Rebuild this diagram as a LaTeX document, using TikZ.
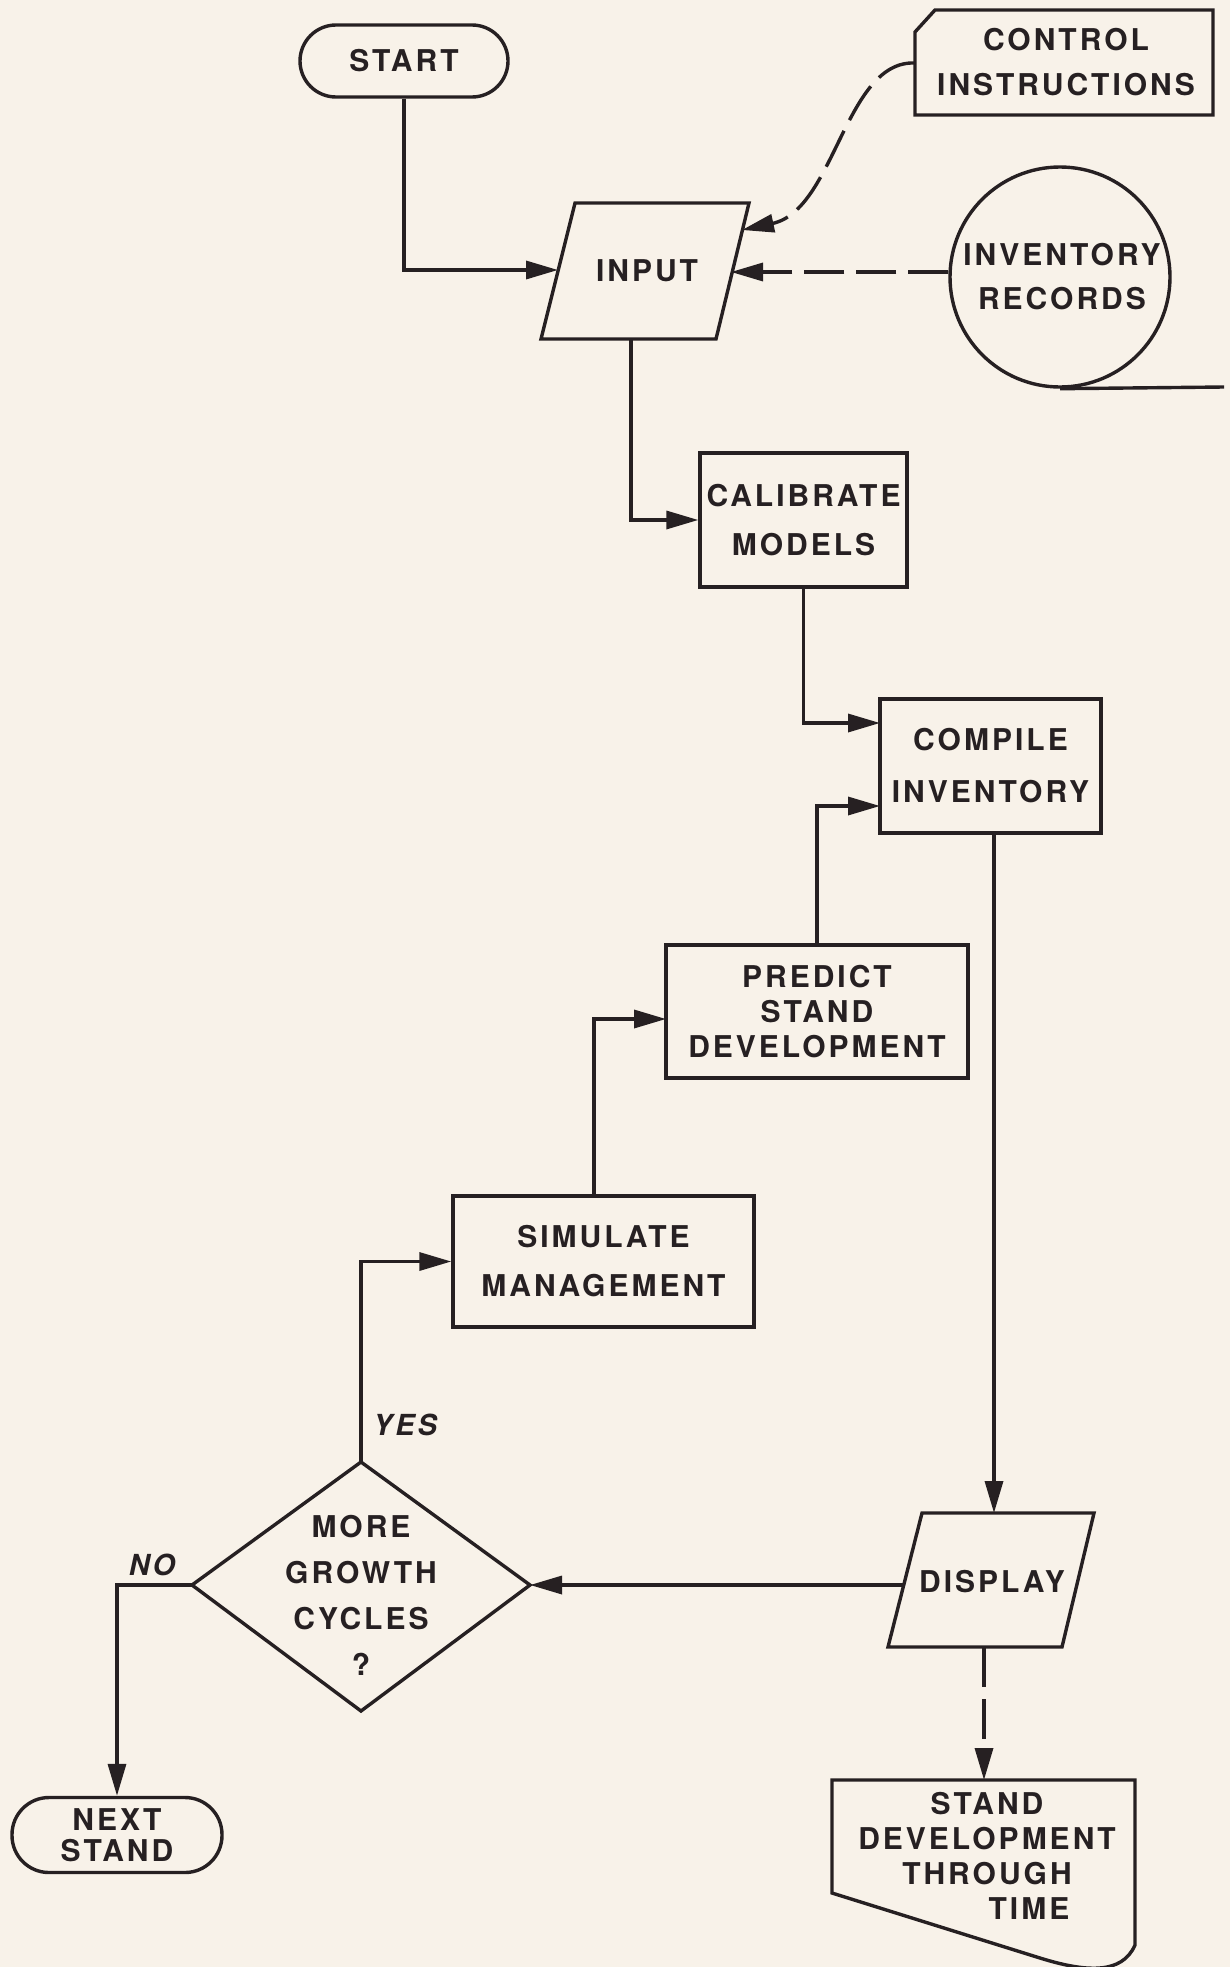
\documentclass[tikz,border=0pt]{standalone}
\usepackage{fontspec}
\newfontfamily\labfont{TeX Gyre Heros}[LetterSpace=10]
\usetikzlibrary{arrows.meta}
\definecolor{bg}{RGB}{248,242,233}
\definecolor{ink}{RGB}{38,32,34}
\begin{document}
\begin{tikzpicture}[x=1pt,y=-1pt,
  line/.style={draw=ink, line width=3.4pt, line join=miter},
  arr/.style={line, -{Triangle[length=32pt,width=18pt]}},
  dsh/.style={dash pattern=on 40pt off 12pt},
  box/.style={draw=ink, line width=3.4pt, rectangle, inner sep=0pt},
  lbl/.style={font=\labfont\bfseries\fontsize{30}{#1}\selectfont, align=center, inner sep=0pt, text=ink},
  lbl/.default=46,
  ital/.style={font=\labfont\bfseries\itshape\fontsize{29}{29}\selectfont, inner sep=0pt, text=ink}]
\fill[bg] (0,0) rectangle (1230,1967);
\useasboundingbox (0,0) rectangle (1230,1967);

% START
\node[box, rounded corners=36pt, minimum width=208pt, minimum height=72pt, lbl] (start) at (404,61) {START};

% CONTROL INSTRUCTIONS card
\draw[line] (935,10) -- (1213,10) -- (1213,115) -- (915,115) -- (915,32) -- cycle;
\node[lbl=45] (ctrl) at (1066,62) {CONTROL\\INSTRUCTIONS};
\coordinate (ctrlW) at (915,63);

% INPUT
\draw[line] (575,203) -- (749,203) -- (716,339) -- (541,339) -- cycle;
\node[lbl] (input) at (647,271) {INPUT};
\coordinate (inW) at (558,270);
\coordinate (inNE) at (742,230);
\coordinate (inE) at (731,272);
\coordinate (inS) at (631,339);

% INVENTORY RECORDS tape
\node[circle, draw=ink, line width=3.4pt, minimum size=220pt, inner sep=0pt] (inv) at (1060,277) {};
\node[lbl=44] (invt) at (1062,277) {INVENTORY\\RECORDS};
\coordinate (tapeE) at (1224,387);
\draw[line] (inv.south) -- (tapeE);

% CALIBRATE
\node[box, minimum width=207pt, minimum height=134pt, lbl=49] (cal) at (803.5,520) {CALIBRATE\\MODELS};
% COMPILE
\node[box, minimum width=221pt, minimum height=134pt, lbl=52] (comp) at (990.5,766) {COMPILE\\INVENTORY};
\coordinate (compA) at (880,723);
\coordinate (compB) at (880,806);
\coordinate (compS) at (994,833);
% PREDICT
\node[box, minimum width=302pt, minimum height=133pt, lbl=35] (pred) at (817,1011.5) {PREDICT\\STAND\\DEVELOPMENT};
\coordinate (predA) at (666,1019);
% SIMULATE
\node[box, minimum width=301pt, minimum height=131pt, lbl=49] (sim) at (603.5,1261.5) {SIMULATE\\MANAGEMENT};
\coordinate (simTop) at (594,1196);

% Decision
\coordinate (dL) at (192,1585);
\coordinate (dT) at (361,1462);
\coordinate (dR) at (530,1585);
\coordinate (dB) at (361,1711);
\draw[line] (dL) -- (dT) -- (dR) -- (dB) -- cycle;
\node[lbl=46] (q) at (361,1595) {MORE\\GROWTH\\CYCLES\\?};
\node[ital] (yes) at (405,1425) {YES};
\node[ital] (no) at (152,1565) {NO};

% DISPLAY
\draw[line] (922,1513) -- (1094,1513) -- (1062,1647) -- (888,1647) -- cycle;
\node[lbl] (disp) at (992,1582) {DISPLAY};
\coordinate (dispW) at (904,1585);
\coordinate (dispN) at (994,1513);
\coordinate (dispS) at (984,1647);

% NEXT STAND
\node[box, rounded corners=37pt, minimum width=210pt, minimum height=75pt, lbl=31] (next) at (117,1835) {NEXT\\STAND};

% Document
\draw[line] (832,1780) -- (1135,1780) -- (1135,1945) .. controls (1122,1975) and (1085,1972) .. (1040,1958) -- (832,1893) -- cycle;
\coordinate (docN) at (984,1780);
\node[lbl=35] (doct) at (987,1856) {STAND\\DEVELOPMENT\\THROUGH\\\hspace*{84pt}TIME};

% Connectors
\draw[arr] (start.south) |- (inW);
\draw[arr, dsh] (ctrlW) .. controls (845,60) and (835,210) .. (inNE);
\draw[arr, dsh] (inv.west |- inE) -- (inE);
\draw[arr] (inS) |- (cal.west);
\draw[arr] (cal.south) |- (compA);
\draw[arr] (pred.north) |- (compB);
\draw[arr] (simTop) |- (predA);
\draw[arr] (dT) |- (sim.west);
\draw[arr] (compS) -- (dispN);
\draw[arr] (dispW) -- (dR);
\draw[arr] (dL) -| (next.north);
\draw[arr, dsh] (dispS) -- (docN);
\end{tikzpicture}
\end{document}
